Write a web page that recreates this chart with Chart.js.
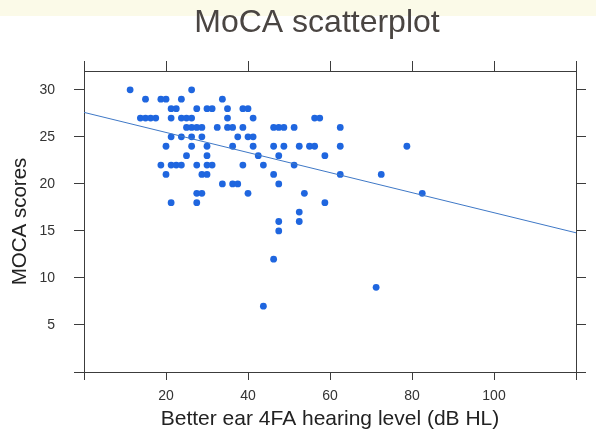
<!DOCTYPE html>
<html>
<head>
<meta charset="utf-8">
<script src="https://cdn.jsdelivr.net/npm/chart.js@4.4.1/dist/chart.umd.min.js"></script>
<style>
  html, body { margin: 0; padding: 0; background: #ffffff; }
  #wrap { width: 596px; height: 444px; position: relative; }
  canvas { display: block; }
</style>
</head>
<body>
<div id="wrap"><canvas id="c" width="596" height="444"></canvas></div>
<script>
// ---- data ----
const chartTitle = "MoCA scatterplot";
const xTitle = "Better ear 4FA hearing level (dB HL)";
const yTitle = "MOCA scores";

// Better ear 4FA hearing level (dB HL)
const hearing = [
  11.25, 26.25,
  15, 18.75, 20, 23.75, 33.75,
  21.25, 22.5, 27.5, 30, 31.25, 35, 38.75, 40,
  13.75, 15, 16.25, 17.5, 21.25, 23.75, 25, 26.25, 35, 41.25, 56.25, 57.5,
  25, 26.25, 27.5, 28.75, 32.5, 35, 36.25, 38.75, 46.25, 47.5, 48.75, 51.25, 62.5,
  21.25, 23.75, 26.25, 28.75, 37.5, 40, 41.25,
  20, 26.25, 30, 36.25, 41.25, 46.25, 48.75, 52.5, 55, 56.25, 62.5, 78.75,
  25, 30, 42.5, 47.5, 58.75,
  18.75, 21.25, 22.5, 23.75, 27.5, 30, 31.25, 38.75, 43.75, 51.25,
  20, 28.75, 30, 46.25, 62.5, 72.5,
  33.75, 36.25, 37.5, 47.5,
  27.5, 28.75, 40, 53.75, 82.5,
  21.25, 27.5, 58.75,
  52.5,
  47.5, 52.5,
  47.5,
  46.25,
  71.25,
  43.75
];
// MOCA scores
const moca = [
  30, 30,
  29, 29, 29, 29, 29,
  28, 28, 28, 28, 28, 28, 28, 28,
  27, 27, 27, 27, 27, 27, 27, 27, 27, 27, 27, 27,
  26, 26, 26, 26, 26, 26, 26, 26, 26, 26, 26, 26, 26,
  25, 25, 25, 25, 25, 25, 25,
  24, 24, 24, 24, 24, 24, 24, 24, 24, 24, 24, 24,
  23, 23, 23, 23, 23,
  22, 22, 22, 22, 22, 22, 22, 22, 22, 22,
  21, 21, 21, 21, 21, 21,
  20, 20, 20, 20,
  19, 19, 19, 19, 19,
  18, 18, 18,
  17,
  16, 16,
  15,
  12,
  9,
  7
];
// fitted regression line (ends)
const fitX = [0, 120];
const fitY = [27.6, 14.8];

// axis tick values
const xTicks = [0, 20, 40, 60, 80, 100, 120];
const xLabels = ["", "20", "40", "60", "80", "100", ""];
const yTicks = [0, 5, 10, 15, 20, 25, 30];
const yLabels = ["", "5", "10", "15", "20", "25", "30"];

// ---- chart ----
const points = hearing.map((h, i) => ({ x: h, y: moca[i] }));
const fitPts = fitX.map((v, i) => ({ x: v, y: fitY[i] }));

const axisColor = '#3c3c3c';
const FONT = "'Liberation Sans', Arial, Helvetica, sans-serif";

function fixedTicks(values) {
  return function (scale) {
    scale.ticks = values.map(v => ({ value: v }));
  };
}
function labelFrom(values, labels) {
  return function (val) {
    const i = values.indexOf(val);
    return i >= 0 ? labels[i] : '';
  };
}

const bgPlugin = {
  id: 'bg',
  beforeDraw(chart) {
    const ctx = chart.ctx;
    ctx.save();
    ctx.fillStyle = '#ffffff';
    ctx.fillRect(0, 0, chart.width, chart.height);
    ctx.fillStyle = '#fbfae8';
    ctx.fillRect(0, 0, chart.width, 16);
    ctx.restore();
  }
};

const titlePlugin = {
  id: 'slideTitle',
  afterDraw(chart) {
    const ctx = chart.ctx;
    ctx.save();
    ctx.font = "32px " + FONT;
    ctx.fillStyle = '#4a4542';
    ctx.textAlign = 'center';
    ctx.textBaseline = 'alphabetic';
    ctx.fillText(chartTitle, 317, 32);
    ctx.restore();
  }
};

new Chart(document.getElementById('c'), {
  type: 'scatter',
  data: {
    datasets: [
      {
        type: 'line',
        data: fitPts,
        borderColor: '#3f78c6',
        borderWidth: 1,
        pointRadius: 0,
        fill: false,
        xAxisID: 'x',
        yAxisID: 'y',
        order: 1
      },
      {
        data: points,
        backgroundColor: '#1f66df',
        borderColor: '#1f66df',
        borderWidth: 0,
        pointRadius: 3.4,
        pointHoverRadius: 3.4,
        xAxisID: 'x',
        yAxisID: 'y',
        order: 2
      }
    ]
  },
  options: {
    responsive: false,
    animation: false,
    devicePixelRatio: 1,
    events: [],
    layout: { padding: 0 },
    plugins: {
      legend: { display: false },
      title: { display: false },
      tooltip: { enabled: false }
    },
    scales: {
      x: {
        type: 'linear', position: 'bottom', min: 0, max: 120,
        afterBuildTicks: fixedTicks(xTicks),
        afterFit(s) { s.height = 72; },
        grid: { drawOnChartArea: false, drawTicks: true, tickLength: 8, color: axisColor, lineWidth: 1 },
        border: { display: true, color: axisColor, width: 1 },
        ticks: { callback: labelFrom(xTicks, xLabels), color: '#333333', font: { family: FONT, size: 14 }, padding: 8, maxRotation: 0, autoSkip: false },
        title: { display: true, text: xTitle, color: '#222222', font: { family: FONT, size: 21 }, padding: { top: 0, bottom: 12 } }
      },
      x2: {
        type: 'linear', position: 'top', min: 0, max: 120,
        afterBuildTicks: fixedTicks(xTicks),
        afterFit(s) { s.height = 71; },
        grid: { drawOnChartArea: false, drawTicks: true, tickLength: 10, color: axisColor, lineWidth: 1 },
        border: { display: true, color: axisColor, width: 1 },
        ticks: { display: false }
      },
      y: {
        type: 'linear', position: 'left', min: 0, max: 32,
        afterBuildTicks: fixedTicks(yTicks),
        afterFit(s) { s.width = 84; },
        grid: { drawOnChartArea: false, drawTicks: true, tickLength: 10, color: axisColor, lineWidth: 1 },
        border: { display: true, color: axisColor, width: 1 },
        ticks: { callback: labelFrom(yTicks, yLabels), color: '#333333', font: { family: FONT, size: 14 }, padding: 19, autoSkip: false },
        title: { display: true, text: yTitle, color: '#222222', font: { family: FONT, size: 20.5 }, padding: { top: 8, bottom: 0 } }
      },
      y2: {
        type: 'linear', position: 'right', min: 0, max: 32,
        afterBuildTicks: fixedTicks(yTicks),
        afterFit(s) { s.width = 20; },
        grid: { drawOnChartArea: false, drawTicks: true, tickLength: 10, color: axisColor, lineWidth: 1 },
        border: { display: true, color: axisColor, width: 1 },
        ticks: { display: false }
      }
    }
  },
  plugins: [bgPlugin, titlePlugin]
});
</script>
</body>
</html>
